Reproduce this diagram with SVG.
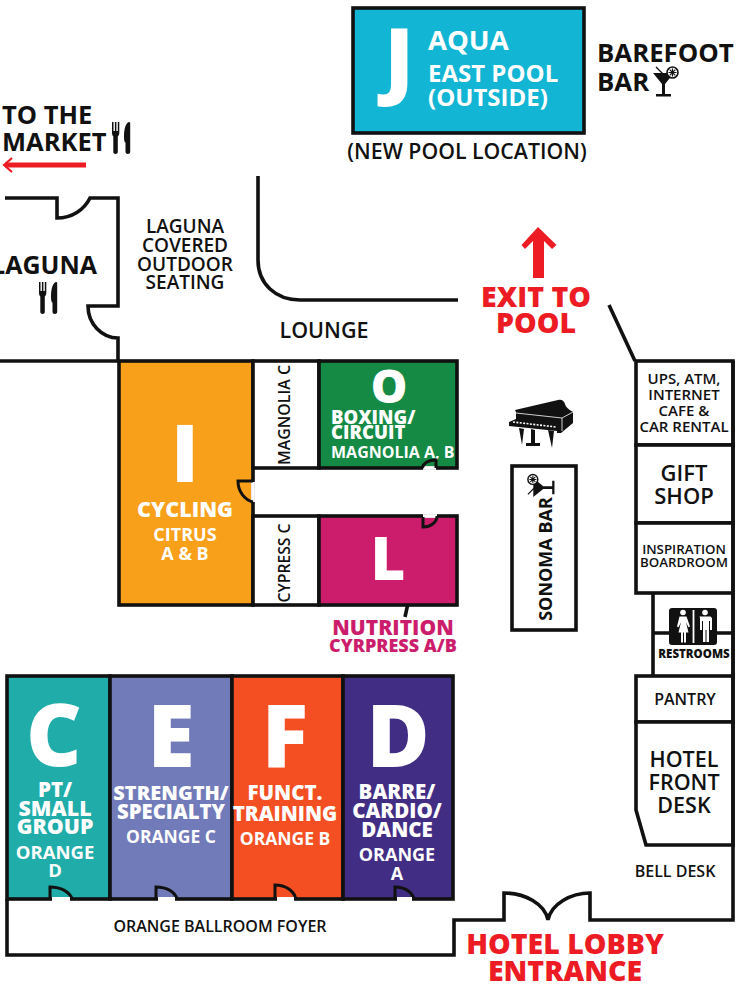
<svg xmlns="http://www.w3.org/2000/svg" width="746" height="993" viewBox="0 0 746 993">
<style>
text{font-family:"Open Sans","Noto Sans","Liberation Sans",sans-serif;text-anchor:middle}
.w{fill:#fff;font-weight:700}
.h{fill:#fff;font-weight:800}
.k{fill:#111;font-weight:600}
.b{fill:#111;font-weight:700}
.r{fill:#ed1c24;font-weight:800}
.l{fill:none;stroke:#111;stroke-width:3}
.ln{fill:none;stroke:#111;stroke-width:3.6}
.box{stroke:#111;stroke-width:3.6}
.gap{fill:none;stroke:#fff;stroke-width:3.8}
.ic{fill:#111}
</style>
<defs>
<g id="cutlery"><path d="M0 0h1.500v9h1.400V0h1.500v9h1.400V0h1.500v11c0 2-1 3-1.500 3.500V30c0 2.500-4.500 2.500-4.500 0V14.500C.8 14 0 13 0 11Z"/><path d="M12 15C12 6 14 1 17 0c.8 0 1.200 .5 1.200 1.500V30c0 2.500-4.700 2.500-4.700 0V20.500c-1 0-1.500-2-1.500-5.500Z"/></g>
<g id="glass"><path d="M0 7H21L12 18V28h6v2.500H3V28h6V18Z"/><path d="M3 1l7 7" stroke="#111" stroke-width="1.300"/><circle cx="19.500" cy="6.500" r="5.500" fill="#fff" stroke="#111" stroke-width="1.600"/><path d="M19.500 2.500v8M15.500 6.500h8M16.700 3.700l5.600 5.600M22.300 3.700l-5.600 5.600" stroke="#111" stroke-width="1.200"/></g>
</defs>

<g id="connectors">
<path class="ln" d="M5 198H57V218C72 218 84 210 90 198H118V306H88C88 324 102 338 118 338V361"/>
<path class="ln" d="M0 361H119"/>
<path class="ln" d="M258 176V260C258 284 276 300 300 300H458"/>
<path class="ln" d="M609 305L635 361"/>
<path d="M5 165H86" stroke="#ed1c24" stroke-width="5" fill="none"/>
<path d="M12 158L4 165L12 172" stroke="#ed1c24" stroke-width="2.200" fill="none"/>
<path d="M533 278V241L525 249L521.500 245L538 227L556.500 245L552 249L544 241V278Z" fill="#ed1c24"/>
<path class="ln" d="M412 585L405 617"/>
</g>

<g id="room-j">
<rect x="353" y="8" width="231" height="125" fill="#13b5d4" class="box"/>
<text class="h" x="399" y="88" font-size="84">J</text>
<text class="w" x="428" y="50" font-size="27.500" style="text-anchor:start">AQUA</text>
<text class="w" x="428" y="82" font-size="24" style="text-anchor:start">EAST POOL</text>
<text class="w" x="428" y="106" font-size="24" style="text-anchor:start">(OUTSIDE)</text>
</g>
<text id="new-pool" class="k" x="467" y="159" font-size="21.300">(NEW POOL LOCATION)</text>
<g id="barefoot-bar">
<text class="b" x="597" y="62" font-size="25.800" style="text-anchor:start">BAREFOOT</text>
<text class="b" x="597" y="91" font-size="25.800" style="text-anchor:start">BAR</text>
<use href="#glass" class="ic" x="653" y="66"/>
</g>
<g id="market">
<text class="b" x="2" y="124" font-size="25.500" style="text-anchor:start">TO THE</text>
<text class="b" x="2" y="151" font-size="25.500" style="text-anchor:start">MARKET</text>
<use href="#cutlery" class="ic" x="112" y="122"/>
</g>
<g id="laguna">
<text class="b" x="44" y="274" font-size="25">LAGUNA</text>
<use href="#cutlery" class="ic" x="39" y="282"/>
</g>
<g id="laguna-seating">
<text class="k" x="185" y="233" font-size="19">LAGUNA</text>
<text class="k" x="185" y="252" font-size="19">COVERED</text>
<text class="k" x="185" y="271" font-size="19">OUTDOOR</text>
<text class="k" x="185" y="289" font-size="19">SEATING</text>
</g>
<text id="lounge" class="k" x="324" y="338" font-size="21.500">LOUNGE</text>
<g id="exit">
<text class="r" x="536" y="307" font-size="28.500">EXIT TO</text>
<text class="r" x="536" y="333" font-size="28.500">POOL</text>
</g>

<g id="room-i">
<rect x="119" y="361" width="134" height="244" fill="#f9a01b" class="box"/>
<text class="h" x="185" y="482" font-size="80">I</text>
<text class="h" x="185" y="517" font-size="21.500">CYCLING</text>
<text class="w" x="185" y="541" font-size="18">CITRUS</text>
<text class="w" x="185" y="560" font-size="18">A &amp; B</text>
</g>
<g id="magnolia-c">
<rect x="253" y="361" width="66" height="107" fill="#fff" class="box"/>
<text class="k" transform="translate(290 415) rotate(-90)" font-size="16.500" textLength="100" lengthAdjust="spacingAndGlyphs">MAGNOLIA C</text>
</g>
<g id="room-o">
<rect x="319" y="361" width="138" height="107" fill="#158a45" class="box"/>
<text class="h" x="389" y="403" font-size="46">O</text>
<text class="h" x="331" y="424" font-size="18.500" style="text-anchor:start">BOXING/</text>
<text class="h" x="331" y="439" font-size="18.500" style="text-anchor:start">CIRCUIT</text>
<text class="w" x="331" y="458" font-size="16" style="text-anchor:start">MAGNOLIA A, B</text>
</g>
<g id="cypress-c">
<rect x="253" y="516" width="66" height="89" fill="#fff" class="box"/>
<text class="k" transform="translate(290 563) rotate(-90)" font-size="16.500" textLength="79" lengthAdjust="spacingAndGlyphs">CYPRESS C</text>
</g>
<g id="room-l">
<rect x="319" y="516" width="138" height="89" fill="#cb1d6c" class="box"/>
<text class="h" x="388" y="580" font-size="60">L</text>
</g>
<g id="nutrition" >
<text class="r" x="393" y="635" font-size="21" style="fill:#cb1d6c">NUTRITION</text>
<text class="r" x="393" y="652" font-size="18" style="fill:#cb1d6c">CYRPRESS A/B</text>
</g>
<g id="inner-doors">
<path d="M253 482V502" class="gap"/><path class="l" d="M253 481H238C238 492 245 500 253 502"/>
<path d="M423 468H436" class="gap"/><path class="l" d="M422 468C424 462 430 460 436 460V468"/>
<path d="M423 516H437" class="gap"/><path class="l" d="M437 516C437 522 431 527 423 527V517"/>
<path d="M457 470V514" class="gap" style="stroke-width:4.500"/>
</g>

<g id="room-sonoma">
<rect x="512" y="466" width="64" height="164" fill="#fff" class="box"/>
<text class="b" transform="translate(552 559) rotate(-90)" font-size="18">SONOMA BAR</text>
<use href="#glass" class="ic" transform="translate(527 497) rotate(-90) scale(.9)"/>
</g>
<g id="piano" class="ic">
<path d="M515 410L558 400C562 399 564 401 565 404C566 408 570 410 573 412V423L561 433H557V431L509 426V422L516 419V412Z"/>
<path d="M519 428L522 445L524 429ZM531 429V443H526V446H540V443H535V430ZM548 430L552 448L554 431Z"/>
<path d="M516 413L562 418L573 412M562 418V431" stroke="#fff" stroke-width=".8" fill="none"/>
<path d="M513 422L556 427" stroke="#fff" stroke-width="1.600" stroke-dasharray="2 1.400"/>
</g>

<g id="ups"><rect x="636" y="361" width="97" height="84" fill="#fff" class="box"/>
<text class="k" x="684" y="384" font-size="15">UPS, ATM,</text>
<text class="k" x="684" y="400" font-size="15">INTERNET</text>
<text class="k" x="684" y="416" font-size="15">CAFE &amp;</text>
<text class="k" x="684" y="432" font-size="15">CAR RENTAL</text></g>
<g id="gift"><rect x="636" y="445" width="97" height="78" fill="#fff" class="box"/>
<text class="k" x="684" y="481" font-size="22">GIFT</text>
<text class="k" x="684" y="504" font-size="22">SHOP</text></g>
<g id="inspiration"><rect x="636" y="523" width="97" height="70" fill="#fff" class="box"/>
<text class="k" x="684" y="554" font-size="13.300">INSPIRATION</text>
<text class="k" x="684" y="567" font-size="13.300">BOARDROOM</text></g>
<g id="restrooms"><path class="ln" d="M653 593V676M733 593V676M653 633H733"/>
<rect x="669" y="608" width="48" height="37" rx="3" fill="#111"/>
<path d="M693.500 610V643" stroke="#fff" stroke-width="1.800"/>
<circle cx="683" cy="612.500" r="2.800" fill="#fff"/>
<path d="M679.500 616.500h7l3.500 10-1.500 .8-2.500-5 2.500 10.200h-2.500v10h-2v-10h-1v10h-2v-10h-2.500l2.500-10.200-2.500 5-1.500-.8Z" fill="#fff"/>
<circle cx="705" cy="612.500" r="2.800" fill="#fff"/>
<path d="M699.500 616.500h11l1.500 1.500v12h-2v-9h-1v21h-2.500v-12h-1v12h-2.500v-21h-1v9h-2V618Z" fill="#fff"/>
<rect x="661" y="646" width="70" height="14" fill="#fff"/>
<text x="694" y="658" font-size="11.500" fill="#111" font-weight="800">RESTROOMS</text></g>
<g id="pantry"><rect x="636" y="676" width="97" height="46" fill="#fff" class="box"/>
<text class="k" x="685" y="705" font-size="16">PANTRY</text></g>
<g id="front-desk"><path class="ln" style="fill:#fff" d="M636 722V810L646 845H733V722Z"/>
<text class="k" x="684" y="767" font-size="21.500">HOTEL</text>
<text class="k" x="684" y="790" font-size="21.500">FRONT</text>
<text class="k" x="684" y="813" font-size="21.500">DESK</text></g>

<g id="room-c"><rect x="7" y="676" width="103" height="223" fill="#20aca9" class="box"/>
<text class="h" x="54" y="766" font-size="86">C</text>
<text class="h" x="55" y="797" font-size="20.500">PT/</text>
<text class="h" x="55" y="816" font-size="21.300">SMALL</text>
<text class="h" x="55" y="834" font-size="21.300">GROUP</text>
<text class="w" x="55" y="859" font-size="18.500">ORANGE</text>
<text class="w" x="55" y="877" font-size="18.500">D</text></g>
<g id="room-e"><rect x="110" y="676" width="122" height="223" fill="#717bb9" class="box"/>
<text class="h" x="171" y="767" font-size="86">E</text>
<text class="h" x="171" y="800" font-size="20">STRENGTH/</text>
<text class="h" x="171" y="819" font-size="20.300">SPECIALTY</text>
<text class="w" x="171" y="843" font-size="17.500">ORANGE C</text></g>
<g id="room-f"><rect x="232" y="676" width="111" height="223" fill="#f44f23" class="box"/>
<text class="h" x="285" y="767" font-size="86">F</text>
<text class="h" x="285" y="800" font-size="20.500">FUNCT.</text>
<text class="h" x="285" y="821" font-size="20.500">TRAINING</text>
<text class="w" x="285" y="845" font-size="17.500">ORANGE B</text></g>
<g id="room-d"><rect x="343" y="676" width="110" height="223" fill="#412d84" class="box"/>
<text class="h" x="398" y="767" font-size="86">D</text>
<text class="h" x="397" y="799" font-size="20.500">BARRE/</text>
<text class="h" x="397" y="818" font-size="20.500">CARDIO/</text>
<text class="h" x="397" y="837" font-size="20.500">DANCE</text>
<text class="w" x="397" y="861" font-size="18">ORANGE</text>
<text class="w" x="397" y="880" font-size="18">A</text></g>
<g id="foyer">
<path class="ln" d="M7 899V955H454V920H504V893C525 893 545 904 548 920C551 904 571 893 590 893V920H733V847"/>
<path class="ln" d="M733 361V847"/>
<g class="l">
<path d="M50 899V887C61 887 70 892 72 899"/>
<path d="M156 899V887C167 887 175 892 177 899"/>
<path d="M275 899V885C286 885 294 891 296 899"/>
<path d="M395 899V887C405 887 412 892 414 899"/></g>
<path d="M52 899H70M158 899H175M277 899H294M397 899H412" class="gap"/>
<text class="k" x="220" y="932" font-size="16">ORANGE BALLROOM FOYER</text>
</g>
<text id="bell-desk" class="k" x="675" y="877" font-size="16">BELL DESK</text>
<g id="lobby">
<text class="r" x="565" y="954" font-size="28.500">HOTEL LOBBY</text>
<text class="r" x="565" y="981" font-size="28.500">ENTRANCE</text>
</g>
</svg>
